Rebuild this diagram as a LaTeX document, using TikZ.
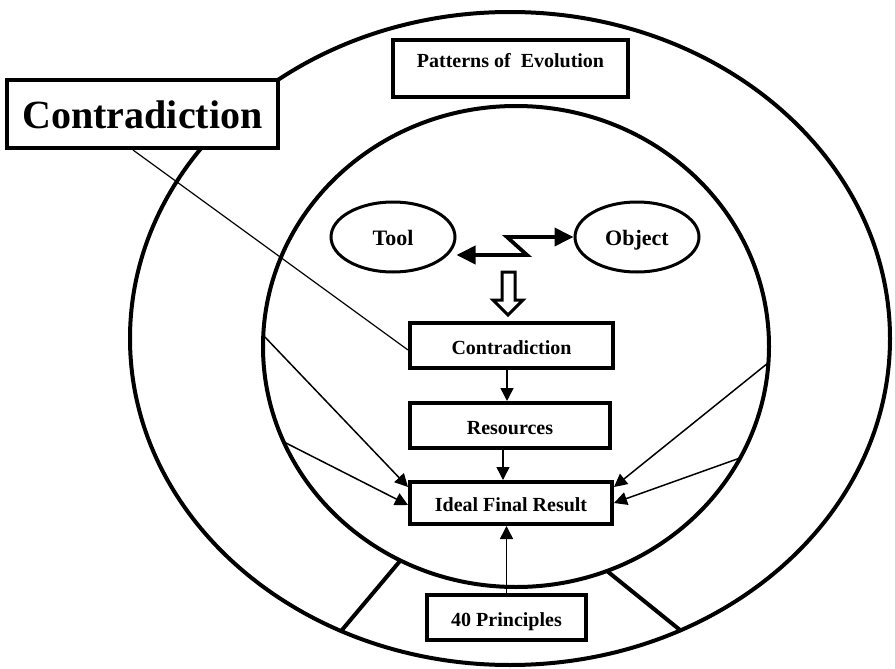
\documentclass[tikz,border=0pt]{standalone}
\usepackage{fontspec}
\setmainfont{Liberation Serif}
\usetikzlibrary{arrows.meta,shapes.geometric,calc}

\begin{document}
\begin{tikzpicture}[x=1pt,y=-1pt,
  box/.style={draw,line width=4pt,fill=white,inner sep=0pt,
    text height=20pt,text depth=3pt,
    font=\fontsize{20}{24}\selectfont\bfseries},
  oval/.style={draw,ellipse,line width=3pt,fill=white,inner sep=0pt,
    minimum width=124pt,minimum height=70pt,
    text height=20pt,text depth=3.4pt,
    font=\fontsize{22}{26}\selectfont\bfseries},
  ring/.style={line width=4pt},
  thin arrow/.style={line width=1.5pt,-{Triangle[length=13pt,width=13pt]}},
  link/.style={line width=1.2pt},
  zig/.style={line width=3.8pt,
    {Triangle[length=19pt,width=18pt]}-{Triangle[length=19pt,width=18pt]}},
]
\useasboundingbox (0,0) rectangle (895,669);

% outer ring and inner circle
\draw[ring] (510,338.5) ellipse [x radius=380, y radius=326.5];
\draw[ring] (516,346.5) ellipse [x radius=253, y radius=240.5];

% spokes closing the lower sector
\coordinate (sl1) at (400,561);
\coordinate (sl2) at (342,630);
\coordinate (sr1) at (607,571);
\coordinate (sr2) at (680,630);
\draw[ring] (sl1) -- (sl2);
\draw[ring] (sr1) -- (sr2);

% boxes
\node[box,minimum width=235pt,minimum height=57pt] (pe) at (510.5,68.5)
  {\raisebox{9pt}{Patterns of\ \ Evolution}};
\node[box,minimum width=271pt,minimum height=68pt,
  text height=34pt,text depth=5.6pt,
  font=\fontsize{40}{46}\selectfont\bfseries] (C) at (142.5,114) {Contradiction};
\node[box,minimum width=203pt,minimum height=45pt] (c) at (511.5,345.5) {Contradiction};
\node[box,minimum width=200pt,minimum height=45pt] (r) at (510,425.5) {Resources};
\node[box,minimum width=202pt,minimum height=42pt] (ifr) at (511,503) {Ideal Final Result};
\node[box,minimum width=159pt,minimum height=45pt] (p) at (506.5,617.5) {40 Principles};

% tool and object
\node[oval] (t) at (393,237) {Tool};
\node[oval] (o) at (637,237) {Object};
\coordinate (zz1) at (527,255);
\coordinate (zz2) at (507,237);
\draw[zig] (zz1 -| t.east) -- (zz1) -- (zz2) -- (o.west);

% hollow arrow down to the contradiction
\draw[line width=3pt,fill=white,line join=miter]
  (502,272) -- (515,272) -- (515,300) -- (523,300) -- (508,315)
  -- (493,300) -- (502,300) -- cycle;

% flow inside the circle
\draw[thin arrow] ([xshift=-4.5]c.south) -- ([xshift=-3]r.north);
\draw[thin arrow] ([xshift=-7]r.south) -- ([xshift=-8]ifr.north);
\draw[thin arrow] (p.north) -- (ifr.south -| p.north);

% link from the large label
\draw[link] ([xshift=-9.5]C.south) -- ([yshift=-4.5]c.west);

% arrows from the circle edge
\coordinate (la1) at (263,335);
\coordinate (la2) at (284,442);
\coordinate (ra1) at (768,363);
\coordinate (ra2) at (740,458);
\draw[thin arrow] (la1) -- ([yshift=16]ifr.west);
\draw[thin arrow] (la2) -- ([yshift=-2]ifr.west);
\draw[thin arrow] (ra1) -- ([yshift=16]ifr.east);
\draw[thin arrow] (ra2) -- (ifr.east);
\end{tikzpicture}
\end{document}
